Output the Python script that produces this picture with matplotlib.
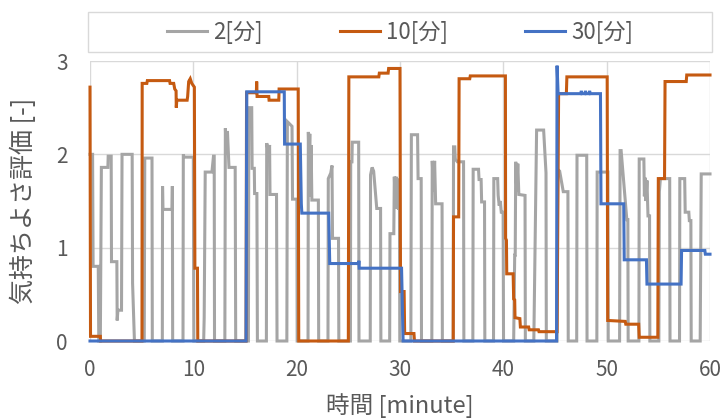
import matplotlib
matplotlib.use("Agg")
import matplotlib.pyplot as plt
from matplotlib.patches import Rectangle

plt.rcParams['font.family'] = ['Noto Sans CJK JP', 'DejaVu Sans']

# ---- series data: time [minute] and rating [-] ----
t_2min = [0.0, 0.25, 0.3, 0.8, 0.85, 1.0, 1.1, 1.73, 1.76, 2.05, 2.08, 2.6, 2.63, 2.7, 3.05, 3.1,
          4.08, 4.12, 4.3, 5.25, 5.3, 6.0, 6.03, 7.0, 7.02, 7.06, 7.94, 7.97, 8.0,
          9.0, 9.03, 9.1, 10.0, 10.05, 11.0, 11.05, 11.15, 11.8, 11.95, 12.02, 12.05,
          13.05, 13.1, 13.2, 13.3, 13.45, 14.05, 14.1,
          15.33, 15.37, 15.65, 15.69, 15.9, 15.93, 16.15, 16.2,
          17.07, 17.1, 17.3, 17.38, 17.42, 18.05, 18.1,
          19.05, 19.1, 19.55, 19.6, 20.02, 20.05,
          21.1, 21.13, 21.2, 21.27, 21.33, 21.4, 21.47, 22.1, 22.13,
          23.03, 23.06, 23.3, 23.42, 23.47, 24.05, 24.08,
          25.2, 25.23, 25.35, 25.38, 26.0, 26.03,
          27.12, 27.15, 27.3, 27.45, 27.75, 28.12, 28.15,
          29.0, 29.03, 29.4, 29.45, 29.55, 29.62, 29.7, 29.78, 29.85, 29.95, 29.98,
          31.05, 31.1, 31.7, 31.75, 32.05, 32.08,
          33.08, 33.12, 33.25, 33.35, 33.45, 34.07, 34.1,
          35.15, 35.18, 35.3, 35.35, 35.55, 36.15, 36.18,
          37.05, 37.08, 37.6, 37.65, 37.85, 37.9, 38.18, 38.21,
          39.05, 39.08, 39.45, 39.5, 39.6, 39.7, 39.8, 39.98, 40.02,
          41.0, 41.1, 41.15, 41.2, 41.3, 41.4, 41.5, 42.1, 42.13,
          42.95, 43.22, 43.9, 44.13, 44.16,
          45.2, 45.25, 45.45, 45.8, 46.25, 46.28,
          47.1, 47.13, 48.07, 48.1,
          49.05, 49.08, 50.12, 50.15,
          51.25, 51.3, 51.4, 51.95, 52.05, 52.08,
          53.12, 53.15, 53.6, 53.65, 53.72, 53.8, 53.9, 54.0, 54.15, 54.18,
          55.05, 55.1, 55.2, 56.1, 56.13,
          57.05, 57.08, 57.55, 57.6, 57.95, 58.0, 58.15, 58.18,
          59.05, 59.15, 60.0]
v_2min = [2.0, 2.0, 0.8, 0.8, 0.0, 0.0, 1.86, 1.86, 1.98, 1.98, 0.85, 0.85, 0.22, 0.33, 0.33, 2.0,
          2.0, 0.62, 0.0, 0.0, 1.96, 1.96, 0.0, 0.0, 1.66, 1.41, 1.41, 1.66, 0.0,
          0.0, 2.0, 1.97, 1.97, 0.0, 0.0, 0.25, 1.81, 1.81, 1.98, 1.98, 0.0,
          0.0, 2.28, 2.0, 2.25, 1.86, 1.86, 0.0,
          0.0, 2.5, 2.5, 1.85, 1.85, 1.58, 1.58, 0.0,
          0.0, 2.12, 2.0, 2.1, 1.57, 1.57, 0.0,
          0.0, 2.35, 2.3, 1.52, 1.52, 0.0,
          0.0, 2.24, 1.9, 2.22, 1.55, 2.1, 1.51, 1.51, 0.0,
          0.0, 1.74, 1.8, 1.88, 1.1, 1.1, 0.0,
          0.0, 1.92, 1.92, 2.13, 2.13, 0.0,
          0.0, 1.78, 1.86, 1.82, 1.42, 1.42, 0.0,
          0.0, 1.15, 1.15, 1.76, 1.45, 1.76, 1.42, 1.74, 1.42, 1.42, 0.0,
          0.0, 2.21, 2.21, 1.74, 1.74, 0.0,
          0.0, 1.93, 1.6, 1.93, 1.47, 1.47, 0.0,
          0.0, 2.08, 2.08, 1.95, 1.92, 1.92, 0.0,
          0.0, 1.84, 1.84, 1.73, 1.73, 1.49, 1.49, 0.0,
          0.0, 1.74, 1.74, 1.56, 1.45, 1.5, 1.38, 1.38, 0.0,
          0.0, 0.92, 0.92, 1.92, 1.6, 1.9, 1.57, 1.56, 0.0,
          0.0, 2.26, 2.26, 1.8, 0.0,
          0.0, 1.84, 1.82, 1.6, 1.6, 0.0,
          0.0, 1.99, 1.99, 0.0,
          0.0, 1.81, 1.81, 0.0,
          0.0, 2.04, 2.04, 1.3, 1.3, 0.0,
          0.0, 1.95, 1.95, 1.55, 1.75, 1.5, 1.72, 1.34, 1.34, 0.0,
          0.0, 1.6, 1.74, 1.74, 0.0,
          0.0, 1.74, 1.74, 1.38, 1.38, 1.29, 1.29, 0.0,
          0.0, 1.79, 1.79]

t_10min = [0.0, 0.05, 1.0, 1.02, 5.03, 5.05, 5.5, 5.55, 7.7, 7.75, 8.1, 8.2, 8.33, 8.35, 8.4,
           9.4, 9.45, 9.55, 9.7, 9.85, 10.1, 10.15, 10.4, 10.43,
           15.1, 15.15, 16.1, 16.13, 16.17, 17.3, 17.33, 18.27, 18.3, 20.15, 20.2,
           25.0, 25.05, 27.95, 28.0, 28.85, 28.9, 30.0, 30.05, 30.4, 30.45, 31.35, 31.4,
           35.15, 35.18, 35.68, 35.72, 36.75, 36.8, 40.2, 40.22, 40.3, 40.33, 40.95, 41.0,
           41.1, 41.13, 41.6, 41.65, 42.45, 42.5, 43.4, 43.45, 45.2, 45.3, 45.35,
           46.1, 46.15, 50.05, 50.1, 51.8, 51.85, 53.1, 53.15, 54.95, 55.0, 55.6, 55.65,
           57.7, 57.75, 60.0]
v_10min = [2.72, 0.05, 0.05, 0.0, 0.0, 2.76, 2.76, 2.79, 2.79, 2.76, 2.76, 2.7, 2.68, 2.5, 2.58,
           2.58, 2.62, 2.78, 2.81, 2.76, 2.72, 0.78, 0.78, 0.0,
           0.0, 2.66, 2.66, 2.78, 2.62, 2.62, 2.58, 2.58, 2.70, 2.70, 0.0,
           0.0, 2.83, 2.83, 2.87, 2.87, 2.92, 2.92, 0.53, 0.53, 0.08, 0.08, 0.0,
           0.0, 1.33, 1.33, 2.81, 2.81, 2.84, 2.84, 1.1, 1.08, 0.72, 0.72, 0.45,
           0.44, 0.25, 0.24, 0.15, 0.15, 0.12, 0.12, 0.1, 0.1, 1.8, 2.65,
           2.65, 2.83, 2.83, 0.22, 0.21, 0.18, 0.18, 0.04, 0.04, 1.74, 1.74, 2.78,
           2.78, 2.85, 2.85]

t_30min = [0.0, 15.1, 15.17, 18.8, 18.83, 20.35, 20.45, 20.5, 23.1, 23.2, 26.0, 26.02, 26.05,
           30.15, 30.3, 45.15, 45.2, 45.3, 47.5, 47.55, 47.6, 47.9, 47.95, 48.0, 48.3, 48.35,
           48.4, 49.4, 49.45, 51.65, 51.7, 53.85, 53.9, 57.2, 57.25, 59.5, 59.55, 60.0]
v_30min = [0.0, 0.0, 2.67, 2.67, 2.11, 2.11, 1.47, 1.37, 1.37, 0.83, 0.83, 0.86, 0.78,
           0.78, 0.0, 0.0, 2.95, 2.65, 2.65, 2.68, 2.65, 2.65, 2.68, 2.65, 2.65, 2.68,
           2.65, 2.65, 1.47, 1.47, 0.87, 0.87, 0.61, 0.61, 0.97, 0.97, 0.93, 0.93]

series_labels = ['2[分]', '10[分]', '30[分]']
series_colors = ['#A5A5A5', '#C55A11', '#4472C4']

x_ticks = [0, 10, 20, 30, 40, 50, 60]
y_ticks = [0, 1, 2, 3]
x_title = '時間 [minute]'
y_title = '気持ちよさ評価 [-]'

text_color = '#595959'
grid_color = '#D9D9D9'

fig = plt.figure(figsize=(7.26, 4.19), dpi=100)
ax = fig.add_axes([90 / 726, 78 / 419, 620 / 726, 280 / 419])

lines = []
for t, v, lab, col in zip([t_2min, t_10min, t_30min], [v_2min, v_10min, v_30min],
                          series_labels, series_colors):
    ln, = ax.plot(t, v, color=col, lw=2.2, label=lab, clip_on=False,
                  solid_joinstyle='miter')
    lines.append(ln)

ax.set_xlim(0, 60)
ax.set_ylim(0, 3)
ax.set_xticks(x_ticks)
ax.set_yticks(y_ticks)
ax.grid(True, color=grid_color, lw=1.0)
ax.set_axisbelow(True)
for s in ax.spines.values():
    s.set_visible(False)
ax.tick_params(length=0, labelsize=15, colors=text_color)
ax.tick_params(axis='y', pad=16)
ax.tick_params(axis='x', pad=13)
ax.set_xlabel(x_title, fontsize=17, color=text_color, labelpad=9)
ax.set_ylabel(y_title, fontsize=18, color=text_color, labelpad=14)

# legend with its own frame spanning the plot width
fig.patches.append(Rectangle((88 / 726, 1 - 52 / 419), 624 / 726, 40 / 419,
                             transform=fig.transFigure, fill=False,
                             edgecolor=grid_color, lw=1.0))
leg = fig.legend(handles=lines, labels=series_labels, loc='center',
                 bbox_to_anchor=(400 / 726, 1 - 32 / 419), ncol=3, frameon=False,
                 fontsize=16, handlelength=1.8, handletextpad=0.25, columnspacing=3.5)
for txt in leg.get_texts():
    txt.set_color(text_color)

fig.savefig('out.png', dpi=100)
